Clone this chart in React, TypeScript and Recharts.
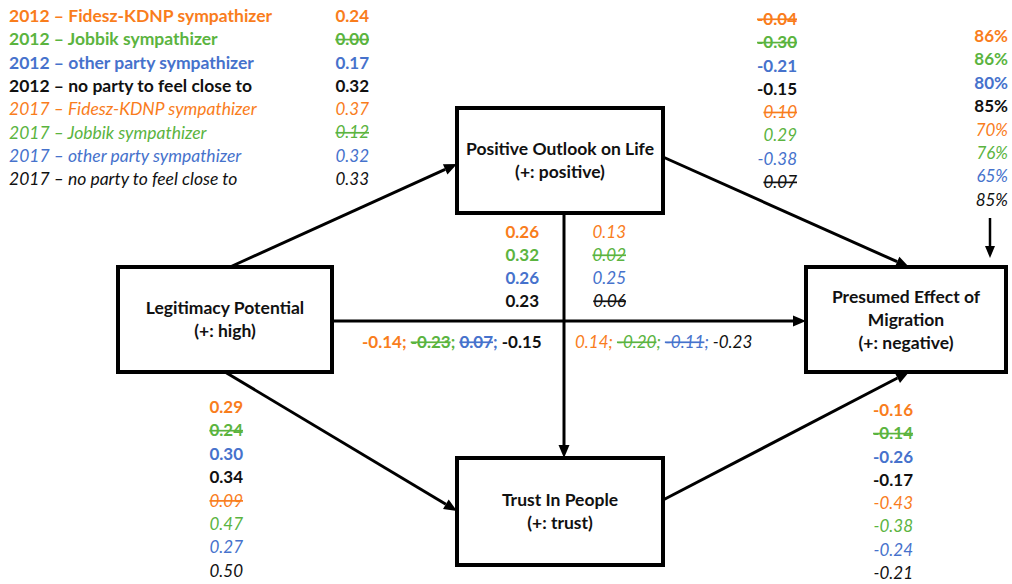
import React from 'react';
import { ScatterChart, Scatter, XAxis, YAxis, ReferenceLine, ReferenceArea } from 'recharts';

const W = 1012;
const H = 584;
const FONT = 'Lato, "Open Sans", sans-serif';

// groups: first four are 2012 (bold), last four are 2017 (italic)
const groups = [
  '2012 – Fidesz-KDNP sympathizer',
  '2012 – Jobbik sympathizer',
  '2012 – other party sympathizer',
  '2012 – no party to feel close to',
  '2017 – Fidesz-KDNP sympathizer',
  '2017 – Jobbik sympathizer',
  '2017 – other party sympathizer',
  '2017 – no party to feel close to',
];
const groupColors = ['#F97D1C', '#5BB43F', '#4672CC', '#111111'];

// path coefficients, same group order; *Sig = false means struck through (not significant)
const lpToPol = [0.24, 0.0, 0.17, 0.32, 0.37, 0.12, 0.32, 0.33];
const lpToPolSig = [true, false, true, true, true, false, true, true];
const polToPem = [-0.04, -0.3, -0.21, -0.15, 0.1, 0.29, -0.38, 0.07];
const polToPemSig = [false, false, true, true, false, true, true, false];
const explained = [86, 86, 80, 85, 70, 76, 65, 85];
const polToTip = [0.26, 0.32, 0.26, 0.23, 0.13, 0.02, 0.25, 0.06];
const polToTipSig = [true, true, true, true, true, false, true, false];
const lpToPem = [-0.14, -0.23, 0.07, -0.15, 0.14, -0.2, -0.11, -0.23];
const lpToPemSig = [true, false, false, true, true, false, false, true];
const lpToTip = [0.29, 0.24, 0.3, 0.34, 0.09, 0.47, 0.27, 0.5];
const lpToTipSig = [true, false, true, true, false, true, true, true];
const tipToPem = [-0.16, -0.14, -0.26, -0.17, -0.43, -0.38, -0.24, -0.21];
const tipToPemSig = [true, false, true, true, true, true, true, true];

const boxTitles = [
  ['Legitimacy Potential', '(+: high)'],
  ['Positive Outlook on Life', '(+: positive)'],
  ['Trust In People', '(+: trust)'],
  ['Presumed Effect of', 'Migration', '(+: negative)'],
];

// ---- layout (pixel space of the chart) ----
const boxRects = [
  { x1: 118, x2: 332, y1: 267, y2: 372 },
  { x1: 457, x2: 663, y1: 108, y2: 213 },
  { x1: 457, x2: 663, y1: 458, y2: 565 },
  { x1: 806, x2: 1006, y1: 267, y2: 372 },
];
const arrows = [
  { from: [230, 267], to: [457, 164], w: 3 },
  { from: [663, 157], to: [909, 267], w: 3 },
  { from: [332, 321], to: [806, 321], w: 3 },
  { from: [564, 213], to: [564, 458], w: 3 },
  { from: [225, 372], to: [457, 511], w: 3 },
  { from: [663, 500], to: [909, 372], w: 3 },
  { from: [990, 218], to: [990, 258], w: 2.5 },
];

type Part = { text: string; color: string; bold: boolean; italic: boolean; strike: boolean };
type Item = { x: number; y: number; anchor: string; size: number; parts: Part[] };

const part = (text: string, g: number, strike = false): Part => ({
  text,
  color: groupColors[g % 4],
  bold: g < 4,
  italic: g >= 4,
  strike,
});

const fmt = (v: number) => v.toFixed(2);
const NUM = 17;
const TXT = 17.5;

function column(texts: string[], sig: boolean[] | null, x: number, y0: number, step: number, idx: number[]): Item[] {
  return idx.map((g, i) => ({
    x,
    y: y0 + i * step,
    anchor: 'end',
    size: NUM,
    parts: [part(texts[g], g, sig ? !sig[g] : false)],
  }));
}

const all8 = [0, 1, 2, 3, 4, 5, 6, 7];

const legendItems: Item[] = groups.map((label, g) => ({
  x: 9,
  y: 16 + g * 23.3,
  anchor: 'start',
  size: TXT,
  parts: [part(label, g)],
}));

const coefItems: Item[] = [
  ...column(lpToPol.map(fmt), lpToPolSig, 369, 16, 23.3, all8),
  ...column(polToPem.map(fmt), polToPemSig, 797, 19, 23.3, all8),
  ...column(explained.map((v) => `${v}%`), null, 1008, 36, 23.4, all8),
  ...column(polToTip.map(fmt), polToTipSig, 539, 232, 23, [0, 1, 2, 3]),
  ...column(polToTip.map(fmt), polToTipSig, 626, 232, 23, [4, 5, 6, 7]),
  ...column(lpToTip.map(fmt), lpToTipSig, 243, 407, 23.4, all8),
  ...column(tipToPem.map(fmt), tipToPemSig, 913, 410, 23.3, all8),
];

function inline(gs: number[], x: number, y: number): Item {
  const parts: Part[] = [];
  gs.forEach((g, i) => {
    parts.push(part(fmt(lpToPem[g]), g, !lpToPemSig[g]));
    if (i < gs.length - 1) parts.push(part('; ', g));
  });
  return { x, y, anchor: 'start', size: NUM, parts };
}
const inlineItems: Item[] = [inline([0, 1, 2, 3], 362, 342), inline([4, 5, 6, 7], 575, 342)];

const boxTextItems: Item[] = boxTitles.flatMap((lines, b) => {
  const r = boxRects[b];
  const cx = (r.x1 + r.x2) / 2;
  const cy = (r.y1 + r.y2) / 2;
  const step = 23;
  return lines.map((t, i) => ({
    x: cx,
    y: cy + (i - (lines.length - 1) / 2) * step,
    anchor: 'middle',
    size: TXT,
    parts: [{ text: t, color: '#111', bold: true, italic: false, strike: false }],
  }));
});

const TextShape = (props: any) => {
  const { cx, cy, payload } = props;
  return (
    <text x={cx} y={cy} dy="0.35em" textAnchor={payload.anchor} fontFamily={FONT} fontSize={payload.size}>
      {payload.parts.map((p: Part, i: number) => (
        <tspan
          key={i}
          fill={p.color}
          fontWeight={p.bold ? 700 : 400}
          fontStyle={p.italic ? 'italic' : 'normal'}
          style={{ textDecoration: p.strike ? 'line-through' : 'none', whiteSpace: 'pre' }}
        >
          {p.text}
        </tspan>
      ))}
    </text>
  );
};

const ArrowShape = (w: number) => (props: any) => {
  const { x1, y1, x2, y2 } = props;
  const ang = Math.atan2(y2 - y1, x2 - x1);
  const len = w > 2.8 ? 13 : 12;
  const half = w > 2.8 ? 5.5 : 5;
  const bx = x2 - len * Math.cos(ang);
  const by = y2 - len * Math.sin(ang);
  const px = -Math.sin(ang) * half;
  const py = Math.cos(ang) * half;
  return (
    <g>
      <line x1={x1} y1={y1} x2={bx} y2={by} stroke="#000" strokeWidth={w} />
      <polygon points={`${x2},${y2} ${bx + px},${by + py} ${bx - px},${by - py}`} fill="#000" />
    </g>
  );
};

export default function App() {
  return (
    <div style={{ position: 'absolute', left: 0, top: 0, width: W, height: H, background: '#fff' }}>
      <ScatterChart width={W} height={H} margin={{ top: 0, right: 0, bottom: 0, left: 0 }}>
        <XAxis type="number" dataKey="x" domain={[0, W]} allowDataOverflow hide />
        <YAxis type="number" dataKey="y" domain={[0, H]} allowDataOverflow reversed hide />
        {arrows.map((a, i) => (
          <ReferenceLine
            key={`a${i}`}
            segment={[
              { x: a.from[0], y: a.from[1] },
              { x: a.to[0], y: a.to[1] },
            ]}
            shape={ArrowShape(a.w)}
            ifOverflow="visible"
          />
        ))}
        {boxRects.map((r, i) => (
          <ReferenceArea
            key={`b${i}`}
            x1={r.x1}
            x2={r.x2}
            y1={r.y1}
            y2={r.y2}
            stroke="#000"
            strokeWidth={4}
            fill="#fff"
            fillOpacity={1}
            ifOverflow="visible"
          />
        ))}
        <Scatter name="legend" data={legendItems} shape={TextShape} isAnimationActive={false} />
        <Scatter name="coefficients" data={coefItems} shape={TextShape} isAnimationActive={false} />
        <Scatter name="direct" data={inlineItems} shape={TextShape} isAnimationActive={false} />
        <Scatter name="boxes" data={boxTextItems} shape={TextShape} isAnimationActive={false} />
      </ScatterChart>
    </div>
  );
}
